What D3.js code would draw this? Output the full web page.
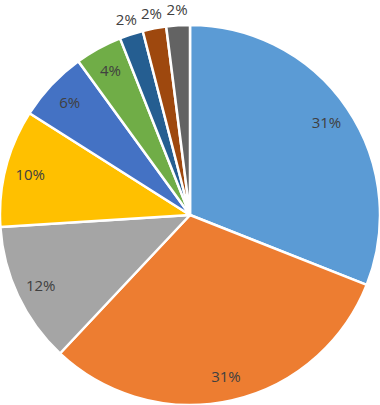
<!DOCTYPE html>
<html><head><meta charset="utf-8">
<script src="https://cdn.jsdelivr.net/npm/d3@7"></script>
<style>html,body{margin:0;padding:0;background:#fff;}</style>
</head><body>
<svg id="chart" width="380" height="405"></svg>
<script>
const categories = ["A","B","C","D","E","F","G","H","I"];
const values = [31, 31, 12, 10, 6, 4, 2, 2, 2];
const labels = ["31%","31%","12%","10%","6%","4%","2%","2%","2%"];
const colors = ["#5B9BD5","#ED7D31","#A5A5A5","#FFC000","#4472C4","#70AD47","#255E91","#9E480E","#636363"];

const svg = d3.select("#chart");
const cx = 190, cy = 215, r = 190;
const g = svg.append("g").attr("transform", `translate(${cx},${cy})`);
const pie = d3.pie().sort(null).value(d => d.v);
const data = pie(categories.map((c,i)=>({c, v: values[i], l: labels[i], col: colors[i]})));
const arc = d3.arc().innerRadius(0).outerRadius(r);
g.selectAll("path").data(data).join("path")
  .attr("d", arc).attr("fill", d => d.data.col)
  .attr("stroke", "#fff").attr("stroke-width", 2.5).attr("stroke-linejoin","round");
const inArc = d3.arc().innerRadius(165).outerRadius(165);
const outArc = d3.arc().innerRadius(206).outerRadius(206);
g.selectAll("text").data(data).join("text")
  .attr("transform", d => `translate(${(d.data.v < 3 ? outArc : inArc).centroid(d)})`)
  .attr("text-anchor","middle").attr("dominant-baseline","central")
  .attr("font-family","Open Sans, sans-serif").attr("font-size", 15)
  .attr("fill","#404040").text(d => d.data.l);
</script>
</body></html>
